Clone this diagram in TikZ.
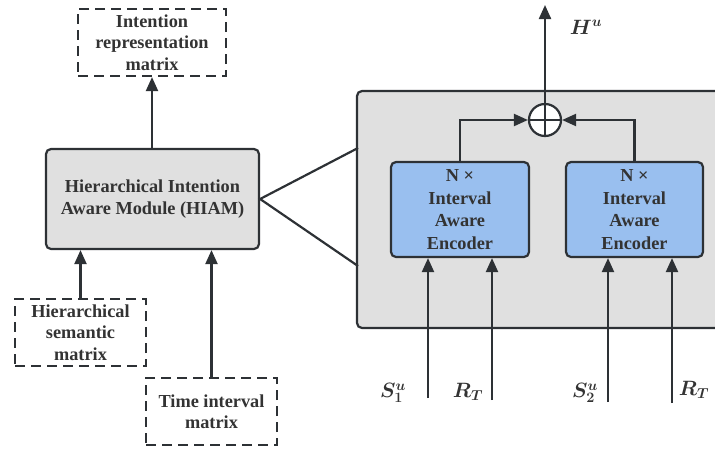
\documentclass[tikz,border=0pt]{standalone}
\usepackage{fontspec}
\setmainfont{Liberation Serif}
\usepackage{amsmath,bm}
\usetikzlibrary{arrows.meta}
\definecolor{ln}{HTML}{2D3135}
\definecolor{txt}{HTML}{333333}
\definecolor{grayfill}{HTML}{E0E0E0}
\definecolor{bluefill}{HTML}{99BFEF}
\tikzset{
  base/.style={inner sep=0pt, align=center, text=txt, font=\fontsize{18.3}{21.5}\selectfont\bfseries},
  dashbox/.style={base, draw=ln, line width=2.2pt, dash pattern=on 10pt off 6pt},
  graybox/.style={base, draw=ln, line width=2.2pt, fill=grayfill, rounded corners=5pt},
  encbox/.style={base, draw=ln, line width=2.2pt, fill=bluefill, rounded corners=5pt, font=\fontsize{18.3}{22.5}\selectfont\bfseries},
  arr/.style={draw=ln, line width=2.2pt, -{Triangle[length=14pt,width=12pt]}},
  conn/.style={draw=ln, line width=2.2pt},
  mlab/.style={inner sep=0pt, text=txt, font=\fontsize{21}{24}\selectfont}
}
\begin{document}
\begin{tikzpicture}[x=1pt,y=-1pt]
\useasboundingbox (0,0) rectangle (715,448);
% big box
\node[graybox, minimum width=373pt, minimum height=237pt] (big) at (543.5,209.5) {};
% left part
\node[dashbox, minimum width=148pt, minimum height=67pt] (irm) at (152,42.5) {Intention\\representation\\matrix};
\node[graybox, minimum width=213pt, minimum height=100pt] (hiam) at (152.5,199) {Hierarchical Intention\\Aware Module (HIAM)};
\node[dashbox, minimum width=131pt, minimum height=67pt] (hsm) at (80.5,332.5) {Hierarchical\\semantic\\matrix};
\node[dashbox, minimum width=131pt, minimum height=67pt] (tim) at (211.5,411.5) {Time interval\\matrix};
\draw[arr] (hiam.north -| irm.south) -- (irm.south);
\draw[arr] (hsm.north) -- (hsm.north |- hiam.south);
\draw[arr] (tim.north) -- (tim.north |- hiam.south);
\coordinate (bt) at (358,148);
\coordinate (bb) at (358,266);
\draw[conn] (bt) -- (hiam.east) -- (bb);
% encoders
\node[encbox, minimum width=138pt, minimum height=95pt] (enc1) at (460,209.5) {N ×\\Interval\\Aware\\Encoder};
\node[encbox, minimum width=137pt, minimum height=95pt] (enc2) at (634.5,209.5) {N ×\\Interval\\Aware\\Encoder};
\node[circle, draw=ln, line width=2.2pt, fill=white, minimum size=32pt, inner sep=0pt] (op) at (545,120) {};
\draw[conn, line width=1.8pt] (op.north) -- (op.south) (op.west) -- (op.east);
\coordinate (top) at (545,5);
\draw[arr] (op.north) -- (top);
\node[mlab] (hu) at (586,27) {$\bm{H}^{\bm{u}}$};
\draw[arr] (enc1.north) -- (enc1.north |- op.west) -- (op.west);
\draw[arr] (enc2.north) -- (enc2.north |- op.east) -- (op.east);
% inputs
\coordinate (i1) at (428,398);
\coordinate (i2) at (492,400);
\coordinate (i3) at (608,402);
\coordinate (i4) at (672,403);
\draw[arr] (i1) -- (i1 |- enc1.south);
\draw[arr] (i2) -- (i2 |- enc1.south);
\draw[arr] (i3) -- (i3 |- enc2.south);
\draw[arr] (i4) -- (i4 |- enc2.south);
\node[mlab] (s1) at (393,393) {$\bm{S}^{\bm{u}}_{\bm{1}}$};
\node[mlab] (r1) at (468,392) {$\bm{R_T}$};
\node[mlab] (s2) at (585,393) {$\bm{S}^{\bm{u}}_{\bm{2}}$};
\node[mlab] (r2) at (694,390) {$\bm{R_T}$};
\end{tikzpicture}
\end{document}
